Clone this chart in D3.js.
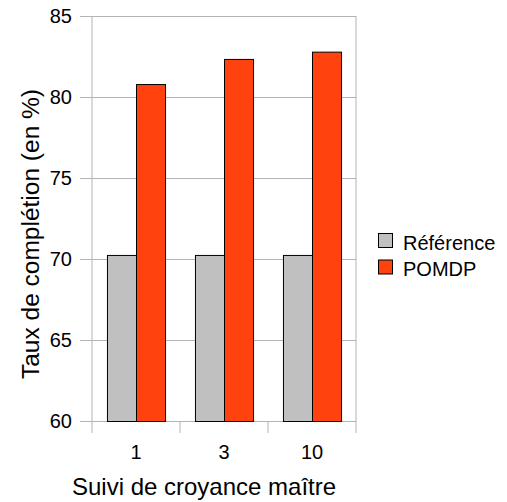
<!DOCTYPE html>
<html>
<head>
<meta charset="utf-8">
<script src="https://cdn.jsdelivr.net/npm/d3@7"></script>
<style>
  body { margin: 0; background: #fff; }
  text { font-family: "Liberation Sans", Arial, sans-serif; fill: #000; }
</style>
</head>
<body>
<svg id="chart" width="507" height="502"></svg>
<script>
const categories = ['1', '3', '10'];
const seriesNames = ['Référence', 'POMDP'];
const reference = [70.25, 70.25, 70.25];
const pomdp = [80.8, 82.35, 82.8];
const yTicks = [60, 65, 70, 75, 80, 85];
const colors = ['#c0c0c0', '#ff420e'];

const margin = { left: 92, right: 151, top: 16, bottom: 81 };
const width = 507, height = 502;
const svg = d3.select('#chart');

const x0 = d3.scaleBand()
  .domain(categories)
  .range([margin.left, width - margin.right])
  .paddingInner(0.34)
  .paddingOuter(0.17);

const x1 = d3.scaleBand()
  .domain(seriesNames)
  .range([0, x0.bandwidth()]);

const y = d3.scaleLinear()
  .domain([60, 85])
  .range([height - margin.bottom, margin.top]);

const gridColor = '#b3b3b3';

// horizontal grid + ticks
const yAxis = svg.append('g')
  .attr('transform', `translate(${margin.left},0)`)
  .call(d3.axisLeft(y).tickValues(yTicks).tickSize(12).tickPadding(8).tickFormat(d3.format('d')));
yAxis.select('.domain').remove();
yAxis.selectAll('line').attr('stroke', gridColor).attr('x2', width - margin.right - margin.left);
yAxis.selectAll('line').attr('x1', -12);
yAxis.selectAll('text').style('font-size', '20px');

// side borders
svg.append('line')
  .attr('x1', margin.left).attr('x2', margin.left)
  .attr('y1', margin.top).attr('y2', height - margin.bottom)
  .attr('stroke', gridColor);
svg.append('line')
  .attr('x1', width - margin.right).attr('x2', width - margin.right)
  .attr('y1', margin.top).attr('y2', height - margin.bottom)
  .attr('stroke', gridColor);

// x category boundary ticks
const step = x0.step();
const boundaries = d3.range(categories.length + 1).map(i => margin.left + i * step);
svg.append('g').selectAll('line').data(boundaries).join('line')
  .attr('x1', d => d).attr('x2', d => d)
  .attr('y1', height - margin.bottom).attr('y2', height - margin.bottom + 12)
  .attr('stroke', gridColor);

svg.append('g').selectAll('text').data(categories).join('text')
  .attr('x', d => x0(d) + x0.bandwidth() / 2)
  .attr('y', 459)
  .attr('text-anchor', 'middle')
  .style('font-size', '20px')
  .text(d => d);

// bars
const rows = categories.map((c, i) => ({ cat: c, vals: [reference[i], pomdp[i]] }));
svg.append('g').selectAll('g').data(rows).join('g')
  .attr('transform', d => `translate(${x0(d.cat)},0)`)
  .selectAll('rect')
  .data(d => d.vals.map((v, j) => ({ name: seriesNames[j], v, j })))
  .join('rect')
  .attr('x', d => x1(d.name) + 0.5)
  .attr('y', d => y(d.v) + 0.5)
  .attr('width', x1.bandwidth())
  .attr('height', d => y(60) - y(d.v))
  .attr('fill', d => colors[d.j])
  .attr('stroke', '#000')
  .attr('stroke-width', 1);

// axis titles
svg.append('text')
  .attr('x', 204)
  .attr('y', 495)
  .attr('text-anchor', 'middle')
  .style('font-size', '24px')
  .text('Suivi de croyance maître');

svg.append('text')
  .attr('transform', 'translate(39,234) rotate(-90)')
  .attr('text-anchor', 'middle')
  .attr('textLength', 290)
  .attr('lengthAdjust', 'spacingAndGlyphs')
  .style('font-size', '23px')
  .text('Taux de complétion (en %)');

// legend
const legend = svg.append('g').attr('transform', 'translate(378,233)');
seriesNames.forEach((name, i) => {
  const g = legend.append('g').attr('transform', `translate(0,${i * 26.5})`);
  g.append('rect').attr('x', 0.5).attr('y', 0.5).attr('width', 14).attr('height', 14)
    .attr('fill', colors[i]).attr('stroke', '#000');
  g.append('text').attr('x', 25).attr('y', 16.5).style('font-size', '20px').text(name);
});
</script>
</body>
</html>
